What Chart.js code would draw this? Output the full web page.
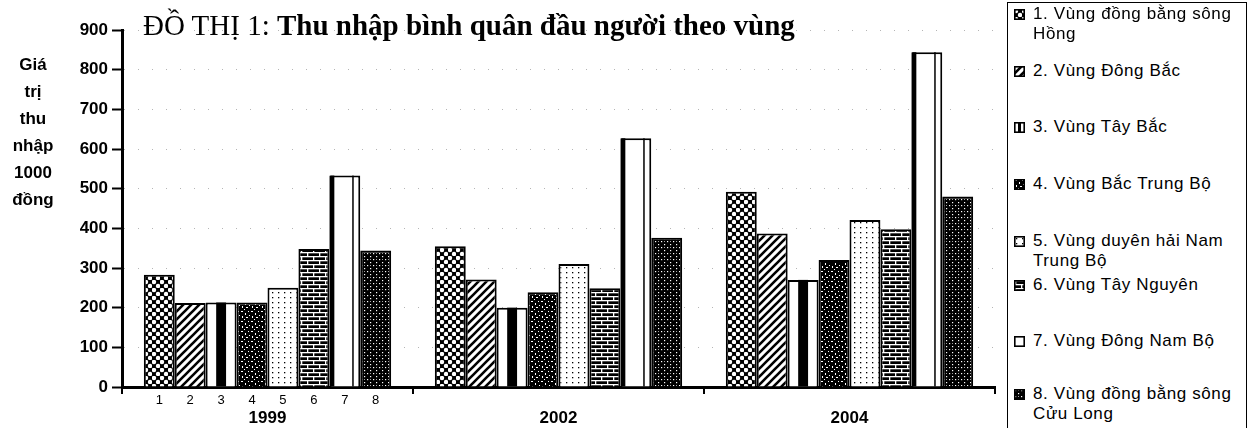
<!DOCTYPE html>
<html>
<head>
<meta charset="utf-8">
<script src="https://cdn.jsdelivr.net/npm/chart.js@4.4.1/dist/chart.umd.min.js"></script>
<style>
  html, body { margin: 0; padding: 0; background: #fff; }
  body { width: 1250px; height: 428px; position: relative; overflow: hidden; }
  #c { position: absolute; left: 0; top: 0; }
  #title { position: absolute; left: 143px; top: 10px; font-family: "Liberation Serif", "Times New Roman", serif; font-size: 29px; line-height: 30px; color: #000; white-space: nowrap; }
  #title b { font-weight: bold; }
  #ytitle { position: absolute; left: 0px; width: 66px; top: 51px; text-align: center; font-family: "Liberation Sans Narrow", "Liberation Sans", Arial, sans-serif; font-weight: bold; font-size: 17px; line-height: 27px; color: #000; }
  #legend { position: absolute; left: 1007px; top: 2px; width: 240px; height: 440px; border: 1.5px solid #000; box-sizing: border-box; }
  .item { position: absolute; left: 6px; }
  .item canvas { position: absolute; left: 0; top: 5px; }
  .item span { position: absolute; left: 19px; top: 0; width: 220px; font-family: "Liberation Sans", Arial, sans-serif; font-size: 17px; line-height: 20px; letter-spacing: 0.6px; color: #000; }
</style>
</head>
<body>
<canvas id="c" width="1000" height="428"></canvas>
<div id="title"></div>
<div id="ytitle"></div>
<div id="legend"></div>
<script>
// ---------- data ----------
const years = ['1999', '2002', '2004'];
const regions = [
  '1. Vùng đồng bằng sông Hồng',
  '2. Vùng Đông Bắc',
  '3. Vùng Tây Bắc',
  '4. Vùng Bắc Trung Bộ',
  '5. Vùng duyên hải Nam Trung Bộ',
  '6. Vùng Tây Nguyên',
  '7. Vùng Đông Nam Bộ',
  '8. Vùng đồng bằng sông Cửu Long'
];
const barNumbers = ['1', '2', '3', '4', '5', '6', '7', '8'];
const dongBangSongHong = [283, 355, 492];
const dongBac          = [212, 271, 387];
const tayBac           = [213, 200, 270];
const bacTrungBo       = [213, 239, 320];
const duyenHaiNamTrungBo = [250, 310, 421];
const tayNguyen        = [348, 249, 398];
const dongNamBo        = [533, 627, 844];
const dongBangSongCuuLong = [344, 376, 480];
const seriesValues = [dongBangSongHong, dongBac, tayBac, bacTrungBo, duyenHaiNamTrungBo, tayNguyen, dongNamBo, dongBangSongCuuLong];
const yTicks = [0, 100, 200, 300, 400, 500, 600, 700, 800, 900];
const titleRegular = 'ĐỒ THỊ 1: ';
const titleBold = 'Thu nhập bình quân đầu người theo vùng';
const yTitleLines = ['Giá', 'trị', 'thu', 'nhập', '1000', 'đồng'];

// ---------- text ----------
document.getElementById('title').innerHTML = titleRegular + '<b>' + titleBold + '</b>';
document.getElementById('ytitle').innerHTML = yTitleLines.join('<br>');

// ---------- patterns ----------
function tile(i) {
  const defs = [
    [8, 8, g => { g.fillStyle = '#000'; g.fillRect(0,0,8,8); g.fillStyle = '#fff';
        [[2,2],[6,6]].forEach(([x,y]) => { g.beginPath(); g.arc(x,y,2.2,0,Math.PI*2); g.fill(); }); }],
    [8, 8, g => { g.fillStyle = '#fff'; g.fillRect(0,0,8,8); g.strokeStyle = '#000'; g.lineWidth = 2.6;
        g.beginPath(); g.moveTo(-1,9); g.lineTo(9,-1); g.moveTo(-1,1); g.lineTo(1,-1); g.moveTo(7,9); g.lineTo(9,7); g.stroke(); }],
    [4, 4, g => { g.fillStyle = '#fff'; g.fillRect(0,0,4,4); }],
    [10, 10, g => { g.fillStyle = '#000'; g.fillRect(0,0,10,10); g.fillStyle = '#fff';
        [[1,1,2,1],[5,3,1,2],[8,1,1,1],[2,6,1,2],[6,7,2,1],[9,5,1,1],[4,9,1,1]].forEach(r => g.fillRect(...r)); }],
    [6, 5, g => { g.fillStyle = '#fff'; g.fillRect(0,0,6,5); g.fillStyle = '#000'; g.fillRect(2,2,1.3,1.3); }],
    [12, 8, g => { g.fillStyle = '#000'; g.fillRect(0,0,12,8); g.fillStyle = '#fff';
        g.fillRect(0,0,12,1.3); g.fillRect(0,4,12,1.3); g.fillRect(1,0,1.3,4); g.fillRect(7,4,1.3,4); }],
    [4, 4, g => { g.fillStyle = '#fff'; g.fillRect(0,0,4,4); }],
    [6, 6, g => { g.fillStyle = '#000'; g.fillRect(0,0,6,6); g.fillStyle = '#fff';
        g.fillRect(1,1,1.2,1.2); g.fillRect(4,4,1.2,1.2); g.fillRect(4,1,0.8,0.8); }]
  ];
  const [w, h, draw] = defs[i];
  const c = document.createElement('canvas'); c.width = w; c.height = h;
  draw(c.getContext('2d'));
  return c;
}
function patternFor(i, ctx) { return ctx.createPattern(tile(i), 'repeat'); }

const canvas = document.getElementById('c');
const ctx = canvas.getContext('2d');

// ---------- extra bar decorations (drawn from element geometry) ----------
const barDecor = {
  id: 'barDecor',
  afterDatasetsDraw(chart) {
    const g = chart.ctx;
    g.save();
    g.fillStyle = '#000';
    [2, 6].forEach(di => {
      chart.getDatasetMeta(di).data.forEach(el => {
        const { x, y, base, width } = el.getProps(['x', 'y', 'base', 'width'], true);
        const left = x - width / 2;
        if (di === 2) {
          g.fillRect(left + width * 0.34, y, width * 0.32, base - y);
        } else {
          g.fillRect(left + 1, y, 4, base - y);
          g.fillRect(left + width * 0.74, y, 1.5, base - y);
        }
      });
    });
    // small numbers under 1999 bars
    g.font = '13px "Liberation Sans Narrow", "Liberation Sans", Arial, sans-serif';
    g.textAlign = 'center';
    g.textBaseline = 'middle';
    chart.data.datasets.forEach((ds, di) => {
      const el = chart.getDatasetMeta(di).data[0];
      g.fillText(barNumbers[di], el.x, chart.chartArea.bottom + 13);
    });
    g.restore();
  }
};

new Chart(ctx, {
  type: 'bar',
  data: {
    labels: years,
    datasets: seriesValues.map((vals, i) => ({
      label: regions[i],
      data: vals,
      backgroundColor: (i === 2 || i === 6) ? '#fff' : patternFor(i, ctx),
      borderColor: '#000',
      borderWidth: 2,
      borderSkipped: 'bottom',
      categoryPercentage: 0.85,
      barPercentage: 1.0
    }))
  },
  options: {
    responsive: false,
    animation: false,
    events: [],
    layout: { padding: { top: 30, right: 5, bottom: 0, left: 0 } },
    plugins: { legend: { display: false }, title: { display: false }, tooltip: { enabled: false } },
    scales: {
      x: {
        offset: true,
        grid: { display: true, offset: true, drawOnChartArea: false, drawTicks: true, tickLength: 7, color: '#000', lineWidth: 2 },
        border: { display: true, color: '#000', width: 3 },
        ticks: { color: '#000', padding: 14, font: { family: '"Liberation Sans", Arial, sans-serif', size: 17, weight: 'bold' } },
        afterFit: s => { s.height = 41; }
      },
      y: {
        min: 0, max: 900,
        afterBuildTicks: s => { s.ticks = yTicks.map(v => ({ value: v })); },
        grid: { color: '#b5b5b5', lineWidth: 1, tickColor: '#000', tickLength: 10, tickWidth: 2, tickBorderDash: [] },
        border: { display: true, color: '#000', width: 3, dash: [1, 13] },
        ticks: { color: '#000', padding: 4, font: { family: '"Liberation Sans", Arial, sans-serif', size: 17, weight: 'bold' } },
        afterFit: s => { s.width = 122; }
      }
    }
  },
  plugins: [barDecor]
});

// ---------- legend (HTML, from regions array) ----------
const legendTops = [3, 60, 116, 173, 230, 274, 330, 383];
const legend = document.getElementById('legend');
regions.forEach((name, i) => {
  const item = document.createElement('div');
  item.className = 'item';
  item.style.top = (legendTops[i] - 2) + 'px';
  const sw = document.createElement('canvas');
  sw.width = 11; sw.height = 11;
  const g = sw.getContext('2d');
  g.fillStyle = (i === 2 || i === 6) ? '#fff' : patternFor(i, g);
  g.fillRect(0, 0, 11, 11);
  g.fillStyle = '#000';
  if (i === 2) g.fillRect(4, 0, 3, 11);
  g.strokeStyle = '#000'; g.lineWidth = 1.6; g.strokeRect(0.8, 0.8, 9.4, 9.4);
  const sp = document.createElement('span');
  sp.textContent = name;
  item.appendChild(sw); item.appendChild(sp);
  legend.appendChild(item);
});
</script>
</body>
</html>
